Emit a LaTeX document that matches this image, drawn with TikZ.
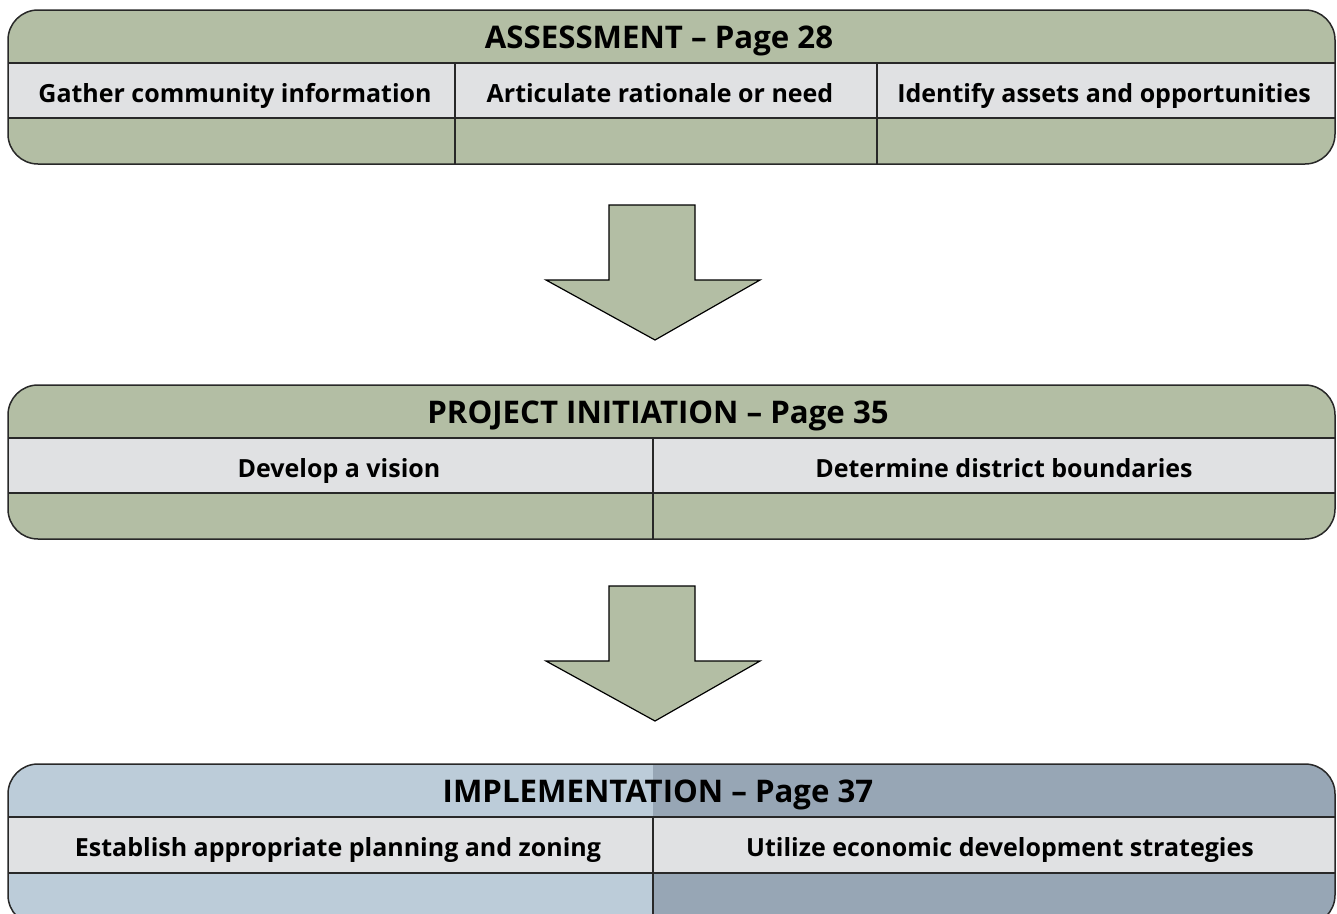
\documentclass[tikz,border=0pt]{standalone}
\usepackage{fontspec}
\setmainfont{Open Sans}
\definecolor{sage}{RGB}{179,190,164}
\definecolor{band}{RGB}{224,225,227}
\definecolor{blueL}{RGB}{188,204,217}
\definecolor{blueD}{RGB}{151,166,181}
\definecolor{edge}{RGB}{40,40,40}
\begin{document}
\begin{tikzpicture}[x=1pt,y=-1pt,
  hdr/.style={font=\bfseries\fontsize{31.2}{31.2}\selectfont, inner sep=0pt, anchor=base},
  cell/.style={font=\bfseries\fontsize{25}{25}\selectfont, inner sep=0pt, anchor=base},
  frame/.style={draw=edge, line width=1.5pt, rounded corners=30pt},
  rule/.style={draw=edge, line width=1.5pt},
  blockarrow/.style={fill=sage, draw=black, line width=1.2pt, line join=miter}]
\useasboundingbox (0,0) rectangle (1337,913);
\clip (0,0) rectangle (1337,913);

% ---------- Box 1 ----------
\begin{scope}
  \clip[rounded corners=30pt] (8,10) rectangle (1335,164);
  \fill[sage] (8,10) rectangle (1335,164);
  \fill[band] (8,63) rectangle (1335,118);
\end{scope}
\draw[rule] (8,63) -- (1335,63) (8,118) -- (1335,118) (455,63) -- (455,164) (877,63) -- (877,164);
\draw[frame] (8,10) rectangle (1335,164);
\node[hdr] (h1) at (659,48) {ASSESSMENT – Page 28};
\node[cell] (c11) at (235,102) {Gather community information};
\node[cell] (c12) at (660,102) {Articulate rationale or need};
\node[cell] (c13) at (1104,102) {Identify assets and opportunities};

% ---------- Arrow 1 ----------
\draw[blockarrow] (609,205) -- (695,205) -- (695,280) -- (760,280) -- (655,340) -- (546,280) -- (609,280) -- cycle;

% ---------- Box 2 ----------
\begin{scope}
  \clip[rounded corners=30pt] (8,385) rectangle (1335,539);
  \fill[sage] (8,385) rectangle (1335,539);
  \fill[band] (8,438) rectangle (1335,493);
\end{scope}
\draw[rule] (8,438) -- (1335,438) (8,493) -- (1335,493) (653,438) -- (653,539);
\draw[frame] (8,385) rectangle (1335,539);
\node[hdr] (h2) at (658,423) {PROJECT INITIATION – Page 35};
\node[cell] (c21) at (339,477) {Develop a vision};
\node[cell] (c22) at (1004,477) {Determine district boundaries};

% ---------- Arrow 2 ----------
\draw[blockarrow] (609,586) -- (695,586) -- (695,661) -- (760,661) -- (655,721) -- (546,661) -- (609,661) -- cycle;

% ---------- Box 3 ----------
\begin{scope}
  \clip[rounded corners=30pt] (8,764) rectangle (1335,925);
  \fill[blueL] (8,764) rectangle (653,925);
  \fill[blueD] (653,764) rectangle (1335,925);
  \fill[band] (8,817) rectangle (1335,873);
\end{scope}
\draw[rule] (8,817) -- (1335,817) (8,873) -- (1335,873) (653,817) -- (653,925);
\draw[frame] (8,764) rectangle (1335,925);
\node[hdr] (h3) at (658,802) {IMPLEMENTATION – Page 37};
\node[cell] (c31) at (338,856) {Establish appropriate planning and zoning};
\node[cell] (c32) at (1000,856) {Utilize economic development strategies};
\end{tikzpicture}
\end{document}
